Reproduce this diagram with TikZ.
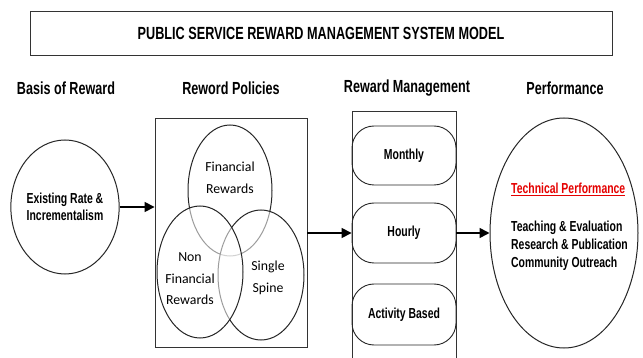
\documentclass[tikz,border=0pt]{standalone}
\usepackage{fontspec}
\setmainfont{Liberation Sans}[FakeStretch=0.72]
\newfontfamily\venn{Carlito}
\usetikzlibrary{shapes.geometric,arrows.meta}
\begin{document}
\begin{tikzpicture}[x=1pt,y=-1pt,
  frame/.style={draw=black!80,line width=0.9pt},
  head/.style={font=\fontsize{17.5}{19}\selectfont\bfseries},
  oval/.style={draw=black!85,line width=1pt,ellipse,inner sep=0pt},
  vennset/.style={oval,fill=white,fill opacity=0.55,draw opacity=1},
  venntext/.style={font=\venn\fontsize{13.8}{21.5}\selectfont,align=center,text=black},
  pill/.style={draw=black!85,line width=0.9pt,rounded corners=22pt,minimum width=104pt,inner sep=0pt},
  label/.style={font=\fontsize{14.5}{17.5}\selectfont\bfseries,align=center},
  flow/.style={line width=1.6pt,-{Triangle[length=10pt,width=10pt]}}]
\useasboundingbox (0,0) rectangle (643,358);
\fill[white] (0,0) rectangle (643,358);

% title banner
\node[frame,minimum width=582pt,minimum height=44pt,inner sep=0pt,
  font=\fontsize{17.6}{19}\selectfont\bfseries] (title) at (321,33)
  {PUBLIC SERVICE REWARD MANAGEMENT SYSTEM MODEL};

% column headings
\node[head] (h1) at (66,88) {Basis of Reward};
\node[head] (h2) at (231,88) {Reword Policies};
\node[head] (h3) at (407,88) {Reward Management};
\node[head] (h4) at (565,88) {Performance};

% basis of reward
\node[oval,minimum width=86pt,minimum height=134pt,label] (basis) at (65,207)
  {Existing Rate \&\\Incrementalism};

% reward policies: three overlapping sets
\node[frame,minimum width=152pt,minimum height=229pt,inner sep=0pt] (policies) at (231,232.5) {};
\node[vennset,minimum width=84pt,minimum height=131pt] (fin) at (230,190.5) {};
\node[vennset,minimum width=86pt,minimum height=130pt] (spine) at (261,275) {};
\node[vennset,minimum width=86pt,minimum height=132pt] (nonfin) at (200,272) {};
\node[venntext] (fint) at (230,178) {Financial\\Rewards};
\node[venntext] (nonfint) at (190,279) {Non\\Financial\\Rewards};
\node[venntext] (spinet) at (268,278) {Single\\Spine};

% reward management column, open at the bottom
\coordinate (rmbl) at (352,360);
\coordinate (rmbr) at (456,360);
\draw[frame] (rmbl) |- (456,111) coordinate (rmtr) -- (rmbr);
\node[pill,minimum height=59pt,label] (monthly) at (404,155.5) {Monthly};
\node[pill,minimum height=60pt,label] (hourly) at (404,233) {Hourly};
\node[pill,minimum height=61pt,label] (activity) at (404,314.5) {Activity Based};

% performance
\node[oval,minimum width=148pt,minimum height=230pt] (perf) at (564,233) {};
\node[font=\fontsize{14.5}{18}\selectfont\bfseries,align=left,anchor=north west,inner sep=0pt]
  (perft) at (511,183)
  {\textcolor{red!90!black}{\underline{Technical Performance}}\\[20pt]
   Teaching \& Evaluation\\Research \& Publication\\Community Outreach};

% flow arrows
\draw[flow] (basis.east) -- (basis.east -| policies.west);
\draw[flow] (policies.east |- hourly) -- (hourly.west);
\draw[flow] (hourly.east) -- (hourly.east -| perf.west);
\end{tikzpicture}
\end{document}
